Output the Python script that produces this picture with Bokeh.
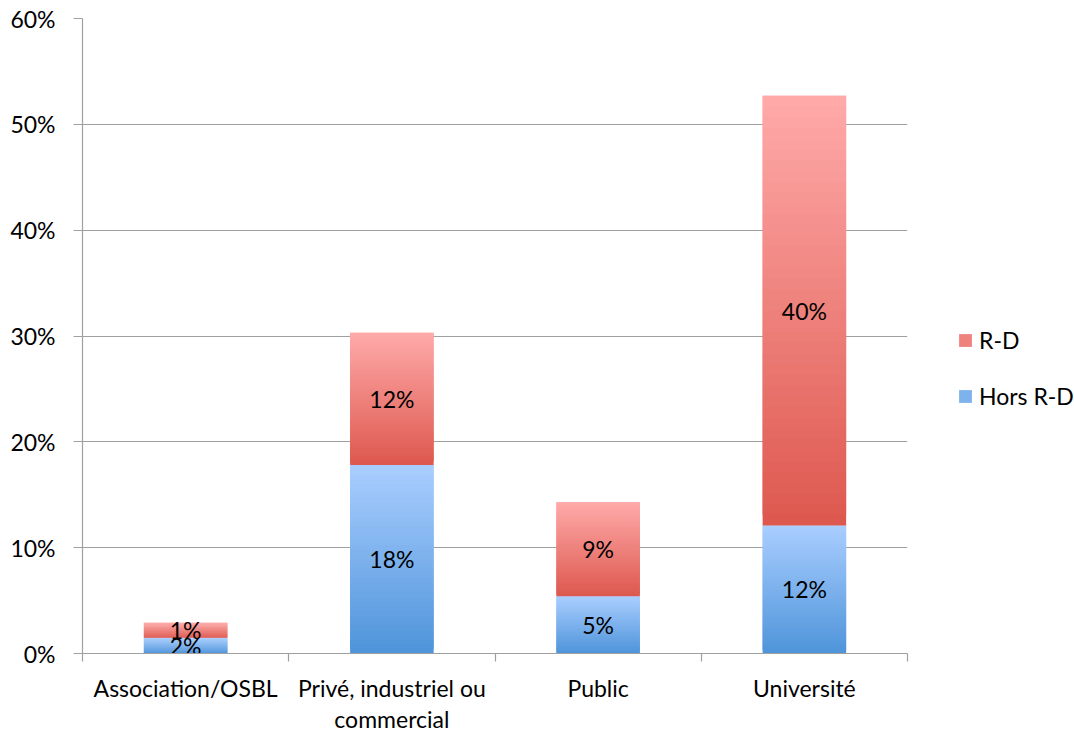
from bokeh.plotting import figure
from bokeh.models import (ColumnDataSource, FixedTicker, LinearAxis, Range1d,
                          Legend, LegendItem, NumeralTickFormatter)
from bokeh.embed import file_html
from bokeh.resources import INLINE
from bokeh.core.properties import value

# ---- data ----
categories = ["Association/OSBL", "Privé, industriel ou\ncommercial", "Public", "Université"]
hors_rd = [1.5, 17.8, 5.4, 12.1]
rd = [1.4, 12.5, 8.9, 40.6]
hors_rd_labels = ["2%", "18%", "5%", "12%"]
rd_labels = ["1%", "12%", "9%", "40%"]
series_names = ["R-D", "Hors R-D"]
y_ticks = [0, 10, 20, 30, 40, 50, 60]

# gradient colours (bottom, top)
RED = ((221, 88, 78), (255, 170, 170))
BLUE = ((78, 148, 218), (170, 206, 255))
FONT = "Lato"
FS = "23px"
N = 40

def hexc(c):
    return "#%02x%02x%02x" % tuple(int(round(v)) for v in c)

def gradient_slices(xs, bottoms, tops, cols):
    x, b, t, c = [], [], [], []
    for xi, lo, hi in zip(xs, bottoms, tops):
        h = (hi - lo) / N
        for k in range(N):
            f = (k + 0.5) / N
            x.append(xi)
            b.append(lo + k * h)
            t.append(min(hi, lo + (k + 2) * h))
            c.append(hexc([cols[0][j] + (cols[1][j] - cols[0][j]) * f for j in range(3)]))
    return ColumnDataSource(dict(x=x, bottom=b, top=t, color=c))

xs = [i + 0.5 for i in range(len(categories))]
totals = [a + b for a, b in zip(hors_rd, rd)]

p = figure(frame_width=825, frame_height=635, output_backend="svg",
           toolbar_location=None, x_range=Range1d(0, len(categories)),
           y_range=Range1d(0, 60), x_axis_type=None,
           min_border_left=82, min_border_right=10, min_border_top=18,
           min_border_bottom=60)
p.outline_line_color = None
p.background_fill_color = "white"
p.border_fill_color = "white"
p.xgrid.visible = False
p.ygrid.ticker = FixedTicker(ticks=y_ticks)
p.ygrid.grid_line_color = "#a0a0a0"
p.ygrid.grid_line_width = 1.2

# y axis
ya = p.yaxis[0]
ya.ticker = FixedTicker(ticks=y_ticks)
ya.formatter = NumeralTickFormatter(format="0")
ya.major_label_overrides = {t: f"{t}%" for t in y_ticks}
ya.axis_line_color = "#a0a0a0"
ya.axis_line_width = 1.2
ya.major_tick_line_color = "#a0a0a0"
ya.major_tick_out = 9
ya.major_tick_in = 0
ya.minor_tick_line_color = None
ya.major_label_standoff = 18
ya.major_label_text_font = FONT
ya.major_label_text_font_size = FS
ya.major_label_text_color = "black"

# x axis: labels at centres, ticks (minor) at boundaries
xa = LinearAxis(ticker=FixedTicker(ticks=xs, minor_ticks=list(range(len(categories) + 1))))
xa.major_label_overrides = {x: c for x, c in zip(xs, categories)}
xa.axis_line_color = "#a0a0a0"
xa.axis_line_width = 1.2
xa.major_tick_line_color = None
xa.major_tick_out = 8
xa.major_tick_in = 0
xa.minor_tick_line_color = "#a0a0a0"
xa.minor_tick_line_width = 1.2
xa.minor_tick_out = 8
xa.minor_tick_in = 0
xa.major_label_standoff = 12
xa.major_label_text_font = FONT
xa.major_label_text_font_size = FS
xa.major_label_text_color = "black"
xa.major_label_text_line_height = 1.12
p.add_layout(xa, "below")

# bars
bw = 0.405
src_h = gradient_slices(xs, [0] * len(xs), hors_rd, BLUE)
src_r = gradient_slices(xs, hors_rd, totals, RED)
r_h = p.vbar(x="x", bottom="bottom", top="top", width=bw, fill_color="color",
             line_color=None, source=src_h)
r_r = p.vbar(x="x", bottom="bottom", top="top", width=bw, fill_color="color",
             line_color=None, source=src_r)

# labels
lab = ColumnDataSource(dict(
    x=xs + xs,
    y=[h / 2 for h in hors_rd] + [h + r / 2 for h, r in zip(hors_rd, rd)],
    t=hors_rd_labels + rd_labels))
p.text(x="x", y="y", text="t", source=lab, text_align="center",
       text_baseline="middle", text_font=value(FONT), text_font_size=FS,
       text_color="black")

legend = Legend(items=[LegendItem(label=series_names[0], renderers=[r_r], index=N // 2),
                       LegendItem(label=series_names[1], renderers=[r_h], index=N // 2)],
                location=(50, 243), orientation="vertical")
legend.background_fill_alpha = 0
legend.border_line_color = None
legend.padding = 0
legend.margin = 0
legend.spacing = 28
legend.glyph_width = 16
legend.glyph_height = 16
legend.label_height = 23
legend.label_standoff = 6
legend.label_text_font = FONT
legend.label_text_font_size = FS
legend.label_text_color = "black"
legend.label_text_baseline = "middle"
p.add_layout(legend, "right")

open("out.html", "w").write(file_html(p, INLINE))
